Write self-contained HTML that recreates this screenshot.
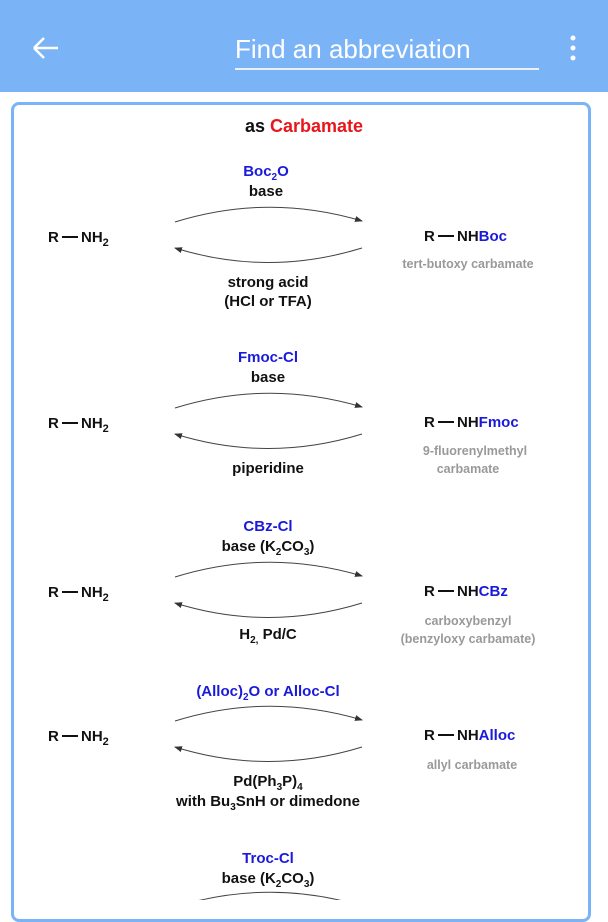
<!DOCTYPE html>
<html><head><meta charset="utf-8"><style>
body{margin:0;width:608px;height:900px;overflow:hidden;background:#fff;font-family:"Liberation Sans",Arial,sans-serif;}
.hdr{position:absolute;left:0;top:0;width:608px;height:92px;background:#7bb3f7;}
.card{position:absolute;left:11px;top:102px;width:580px;height:820px;border:3px solid #7bb3f7;border-radius:8px;box-sizing:border-box;}
svg text{font-family:"Liberation Sans",Arial,sans-serif;font-weight:bold;}
</style></head><body>
<div class="hdr"></div>
<div class="card"></div>
<svg width="608" height="900" style="position:absolute;left:0;top:0">
<defs>
<marker id="a" markerWidth="8" markerHeight="6" refX="7" refY="3" orient="auto"><path d="M0,0 L8,3 L0,6 z" fill="#333"/></marker>
<g id="arr">
<path d="M175,222 Q268,193 362,221" fill="none" stroke="#444" stroke-width="1" marker-end="url(#a)"/>
<path d="M362,248 Q268,277 175,248" fill="none" stroke="#444" stroke-width="1" marker-end="url(#a)"/>
</g>
<g id="rnh2" font-size="15" fill="#111">
<text x="48" y="242">R</text><rect x="62" y="236" width="16" height="2" fill="#111"/>
<text x="81" y="242">NH<tspan font-size="11" dy="4">2</tspan></text>
</g>
<g id="rnh" font-size="15" fill="#111">
<text x="424" y="241">R</text><rect x="438" y="235" width="16" height="2" fill="#111"/>
</g>
</defs>
<path d="M34,48 L58,48 M34,48 L44,38 M34,48 L44,58" stroke="#fff" stroke-width="2.5" fill="none"/>
<text x="235" y="58" font-size="26" fill="#fff" style="font-weight:normal">Find an abbreviation</text>
<rect x="235" y="68" width="304" height="2" fill="#e8f1fd"/>
<circle cx="573" cy="38" r="2.5" fill="#fff"/><circle cx="573" cy="48" r="2.5" fill="#fff"/><circle cx="573" cy="58" r="2.5" fill="#fff"/>
<text x="304" y="132" font-size="18" text-anchor="middle" fill="#111">as <tspan fill="#e8161b">Carbamate</tspan></text>

<g font-size="15" fill="#111">
<use href="#arr"/><use href="#rnh2"/><use href="#rnh"/>
<text x="266" y="176" text-anchor="middle" fill="#1a1adb">Boc<tspan font-size="10" dy="4">2</tspan><tspan dy="-4">O</tspan></text>
<text x="266" y="196" text-anchor="middle">base</text>
<text x="457" y="241">NH<tspan fill="#1a1adb">Boc</tspan></text>
<text x="468" y="268" font-size="12.5" text-anchor="middle" fill="#999">tert-butoxy carbamate</text>
<text x="268" y="287" text-anchor="middle">strong acid</text>
<text x="268" y="306" text-anchor="middle">(HCl or TFA)</text>

<use href="#arr" y="186"/><use href="#rnh2" y="186"/><use href="#rnh" y="186"/>
<text x="268" y="362" text-anchor="middle" fill="#1a1adb">Fmoc-Cl</text>
<text x="268" y="382" text-anchor="middle">base</text>
<text x="457" y="427">NH<tspan fill="#1a1adb">Fmoc</tspan></text>
<text x="475" y="455" font-size="12.5" text-anchor="middle" fill="#999">9-fluorenylmethyl</text>
<text x="468" y="473" font-size="12.5" text-anchor="middle" fill="#999">carbamate</text>
<text x="268" y="473" text-anchor="middle">piperidine</text>

<use href="#arr" y="355"/><use href="#rnh2" y="355"/><use href="#rnh" y="355"/>
<text x="268" y="531" text-anchor="middle" fill="#1a1adb">CBz-Cl</text>
<text x="268" y="551" text-anchor="middle">base (K<tspan font-size="10" dy="4">2</tspan><tspan dy="-4">CO</tspan><tspan font-size="10" dy="4">3</tspan><tspan dy="-4">)</tspan></text>
<text x="457" y="596">NH<tspan fill="#1a1adb">CBz</tspan></text>
<text x="468" y="625" font-size="12.5" text-anchor="middle" fill="#999">carboxybenzyl</text>
<text x="468" y="643" font-size="12.5" text-anchor="middle" fill="#999">(benzyloxy carbamate)</text>
<text x="268" y="639" text-anchor="middle">H<tspan font-size="10" dy="4">2,</tspan><tspan dy="-4"> Pd/C</tspan></text>

<use href="#arr" y="499"/><use href="#rnh2" y="499"/><use href="#rnh" y="499"/>
<text x="268" y="696" text-anchor="middle" fill="#1a1adb">(Alloc)<tspan font-size="10" dy="4">2</tspan><tspan dy="-4">O or Alloc-Cl</tspan></text>
<text x="457" y="740">NH<tspan fill="#1a1adb">Alloc</tspan></text>
<text x="472" y="769" font-size="12.5" text-anchor="middle" fill="#999">allyl carbamate</text>
<text x="268" y="786" text-anchor="middle">Pd(Ph<tspan font-size="10" dy="4">3</tspan><tspan dy="-4">P)</tspan><tspan font-size="10" dy="4">4</tspan></text>
<text x="268" y="806" text-anchor="middle">with Bu<tspan font-size="10" dy="4">3</tspan><tspan dy="-4">SnH or dimedone</tspan></text>

<use href="#arr" y="685"/>
<text x="268" y="863" text-anchor="middle" fill="#1a1adb">Troc-Cl</text>
<text x="268" y="883" text-anchor="middle">base (K<tspan font-size="10" dy="4">2</tspan><tspan dy="-4">CO</tspan><tspan font-size="10" dy="4">3</tspan><tspan dy="-4">)</tspan></text>
</g>
</svg>
</body></html>
